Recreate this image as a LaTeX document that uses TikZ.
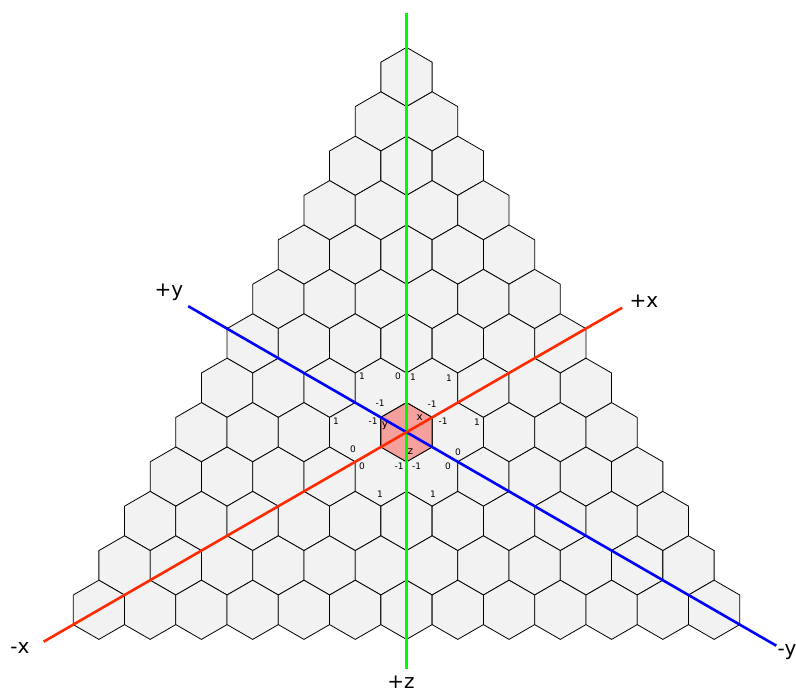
\documentclass[tikz,border=0pt]{standalone}
\usepackage{fontspec}
\setmainfont{DejaVu Sans}
\usepackage{tikz}
\usetikzlibrary{positioning, calc}
\usepackage{xcolor}
\definecolor{cellgray}{RGB}{242,242,242}
\definecolor{cellpink}{RGB}{244,160,156}
\definecolor{axisred}{RGB}{255,42,0}
\definecolor{axisblue}{RGB}{0,0,255}
\definecolor{axisgreen}{RGB}{0,250,0}

\begin{document}
\begin{tikzpicture}[x=1pt, y=-1pt,
    hexcell/.style={draw=black, fill=cellgray, line width=0.8pt, line join=miter},
    axisline/.style={line width=2.6pt},
    axislabel/.style={font=\fontsize{20}{22}\selectfont, inner sep=0pt},
    coordlabel/.style={font=\fontsize{9}{10}\selectfont, inner sep=0pt},
    letterlabel/.style={font=\fontsize{10.5}{12}\selectfont, inner sep=0pt}]
  \useasboundingbox (0,0) rectangle (796,693);
  % Triangle of hexagons, 13 rows
  \def\hr{29.6}
  \foreach \r in {0,...,12} {
    \foreach \i in {0,...,\r} {
      \pgfmathsetmacro\cx{406.5+(\i-\r/2)*51.27}
      \pgfmathsetmacro\cy{77+\r*44.4}
      \draw[hexcell] (\cx,\cy) +(90:\hr) -- +(30:\hr) -- +(-30:\hr)
        -- +(-90:\hr) -- +(-150:\hr) -- +(150:\hr) -- cycle;
    }
  }
  % Origin cell
  \coordinate (O) at (406.5,432.2);
  \draw[hexcell, fill=cellpink] (O) +(90:\hr) -- +(30:\hr) -- +(-30:\hr)
    -- +(-90:\hr) -- +(-150:\hr) -- +(150:\hr) -- cycle;
  % Axis ends
  \coordinate (xp) at ($(O)+(-30:249)$);
  \coordinate (xm) at ($(O)+(150:419)$);
  \coordinate (yp) at ($(O)+(210:252)$);
  \coordinate (ym) at ($(O)+(30:427)$);
  \coordinate (zp) at ($(O)+(90:237)$);
  \coordinate (zm) at ($(O)+(270:419)$);
  % Axes
  \draw[axisline, axisgreen] (zm) -- (zp);
  \draw[axisline, axisblue] (yp) -- (ym);
  \draw[axisline, axisred] (xm) -- (xp);
  % Axis labels
  \node[axislabel] (lxp) at (644,301) {+x};
  \node[axislabel] (lxm) at (20,648) {-x};
  \node[axislabel] (lyp) at (169,292) {+y};
  \node[axislabel] (lym) at (787,652) {-y};
  \node[axislabel] (lzp) at (401,682) {+z};
  % Cell letters
  \node[letterlabel] (cx) at (419.7,418) {x};
  \node[letterlabel] (cy) at (385,426) {y};
  \node[letterlabel] (cz) at (410.5,451.5) {z};
  % Neighbour values
  \foreach \px/\py/\t [count=\k] in {
      362/376/1, 398/376/0, 413/377/1, 449/378/1,
      380/403/-1, 432/404/-1,
      336/421/1, 373/421/-1, 443/421.5/-1, 477/422/1,
      353/449/0, 458/452/0,
      362/466/0, 399/466/-1, 416.5/466/-1, 448/466/0,
      380/494/1, 433/494/1} {
    \node[coordlabel] (v\k) at (\px,\py) {\t};
  }
\end{tikzpicture}
\end{document}
